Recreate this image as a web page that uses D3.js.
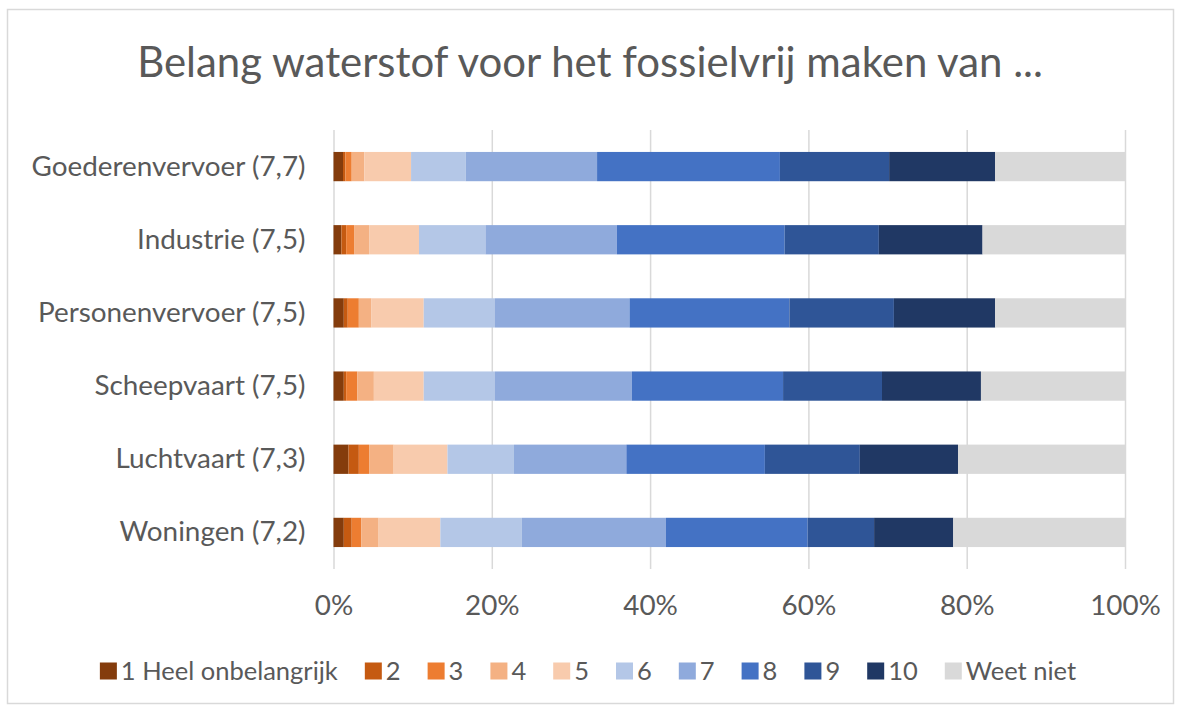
<!DOCTYPE html>
<html>
<head>
<meta charset="utf-8">
<script src="https://cdn.jsdelivr.net/npm/d3@7"></script>
<style>
  body { margin: 0; background: #fff; }
  svg text { font-family: Lato, "Open Sans", sans-serif; fill: #595959; }
</style>
</head>
<body>
<svg id="chart" width="1182" height="713"></svg>
<script>
// categories (top to bottom) and the share per answer, in %
const categories = [
  "Goederenvervoer (7,7)",
  "Industrie (7,5)",
  "Personenvervoer (7,5)",
  "Scheepvaart (7,5)",
  "Luchtvaart (7,3)",
  "Woningen (7,2)"
];
const seriesNames = ["1 Heel onbelangrijk", "2", "3", "4", "5", "6", "7", "8", "9", "10", "Weet niet"];
const seriesColors = ["#843C0C", "#C55A11", "#ED7D31", "#F4B183", "#F8CBAD",
  "#B4C7E7", "#8FAADC", "#4472C4", "#2F5597", "#203864", "#D9D9D9"];

const goederenvervoer = [1.2, 0.3, 0.8, 1.6, 5.9, 6.9, 16.6, 23.1, 13.8, 13.4, 16.4];
const industrie       = [1.0, 0.6, 1.0, 1.9, 6.3, 8.4, 16.6, 21.2, 11.9, 13.1, 18.0];
const personenvervoer = [1.3, 0.5, 1.4, 1.6, 6.6, 9.0, 17.0, 20.2, 13.2, 12.8, 16.4];
const scheepvaart     = [1.3, 0.3, 1.4, 2.1, 6.3, 9.0, 17.3, 19.1, 12.5, 12.5, 18.2];
const luchtvaart      = [1.9, 1.3, 1.3, 3.1, 6.8, 8.4, 14.2, 17.5, 12.0, 12.4, 21.1];
const woningen        = [1.3, 1.0, 1.2, 2.2, 7.8, 10.3, 18.2, 17.9, 8.4, 10.0, 21.7];

const xTicks = [0, 0.2, 0.4, 0.6, 0.8, 1];
const title = "Belang waterstof voor het fossielvrij maken van ...";

const rows = [goederenvervoer, industrie, personenvervoer, scheepvaart, luchtvaart, woningen];
const table = categories.map((c, i) => {
  const row = { category: c };
  seriesNames.forEach((s, j) => { row[s] = rows[i][j]; });
  return row;
});

const W = 1182, H = 713;
const margin = { top: 130, right: 57, bottom: 144, left: 333.5 };
const innerW = 1125 - margin.left;
const innerH = H - margin.top - margin.bottom;

const svg = d3.select("#chart");

// pick a font size so that a text gets a given width
function fitSize(str, target) {
  const t = svg.append("text").attr("font-size", 100).text(str);
  const w = t.node().getComputedTextLength();
  t.remove();
  return 100 * target / w;
}
const titleSize = fitSize(title, 906);
const labelSize = fitSize("Goederenvervoer (7,7)", 274);
const legendSize = fitSize("1 Heel onbelangrijk", 217);

// outer frame
svg.append("rect")
  .attr("x", 7.5).attr("y", 9.5)
  .attr("width", 1166).attr("height", 694)
  .attr("fill", "#fff")
  .attr("stroke", "#D9D9D9")
  .attr("stroke-width", 1.5);

svg.append("text")
  .attr("x", 590)
  .attr("y", 77)
  .attr("text-anchor", "middle")
  .attr("font-size", titleSize)
  .text(title);

const bounds = svg.append("g")
  .attr("transform", `translate(${margin.left},${margin.top})`);

const xScale = d3.scaleLinear().domain([0, 1]).range([0, innerW]);
const yScale = d3.scaleBand()
  .domain(categories)
  .range([0, innerH])
  .paddingInner(0.6)
  .paddingOuter(0.3);

// gridlines
bounds.append("g")
  .attr("class", "grid")
  .call(d3.axisBottom(xScale).tickValues(xTicks).tickSize(innerH).tickFormat(""))
  .call(g => g.select(".domain").remove())
  .selectAll("line")
  .attr("stroke", "#D9D9D9")
  .attr("stroke-width", 1.5);

const stack = d3.stack().keys(seriesNames).offset(d3.stackOffsetExpand);
const series = stack(table);

bounds.append("g")
  .selectAll("g")
  .data(series)
  .join("g")
  .attr("fill", (d, i) => seriesColors[i])
  .selectAll("rect")
  .data(d => d)
  .join("rect")
  .attr("x", d => xScale(d[0]))
  .attr("y", d => yScale(d.data.category))
  .attr("width", d => xScale(d[1]) - xScale(d[0]))
  .attr("height", yScale.bandwidth());

// x axis labels
bounds.append("g")
  .attr("transform", `translate(0,${innerH})`)
  .call(d3.axisBottom(xScale).tickValues(xTicks).tickFormat(d3.format(".0%")).tickSize(0).tickPadding(26))
  .call(g => g.select(".domain").remove())
  .selectAll("text")
  .attr("font-size", labelSize)
  .attr("font-family", null)
  .attr("fill", null);

// category labels
bounds.append("g")
  .call(d3.axisLeft(yScale).tickSize(0).tickPadding(28))
  .call(g => g.select(".domain").remove())
  .selectAll("text")
  .attr("font-size", labelSize)
  .attr("font-family", null)
  .attr("fill", null);

// legend
const legend = svg.append("g");
const sw = 17, gap = 4, itemGap = 27;
let cursor = 0;
seriesNames.forEach((name, i) => {
  const g = legend.append("g");
  g.append("rect")
    .attr("x", 0).attr("y", -sw / 2)
    .attr("width", sw).attr("height", sw)
    .attr("fill", seriesColors[i]);
  const t = g.append("text")
    .attr("x", sw + gap)
    .attr("dy", "0.35em")
    .attr("font-size", legendSize)
    .text(name);
  const w = sw + gap + t.node().getComputedTextLength();
  g.attr("transform", `translate(${cursor},0)`);
  cursor += w + itemGap;
});
const legendW = cursor - itemGap;
legend.attr("transform", `translate(${588 - legendW / 2},671)`);
</script>
</body>
</html>
